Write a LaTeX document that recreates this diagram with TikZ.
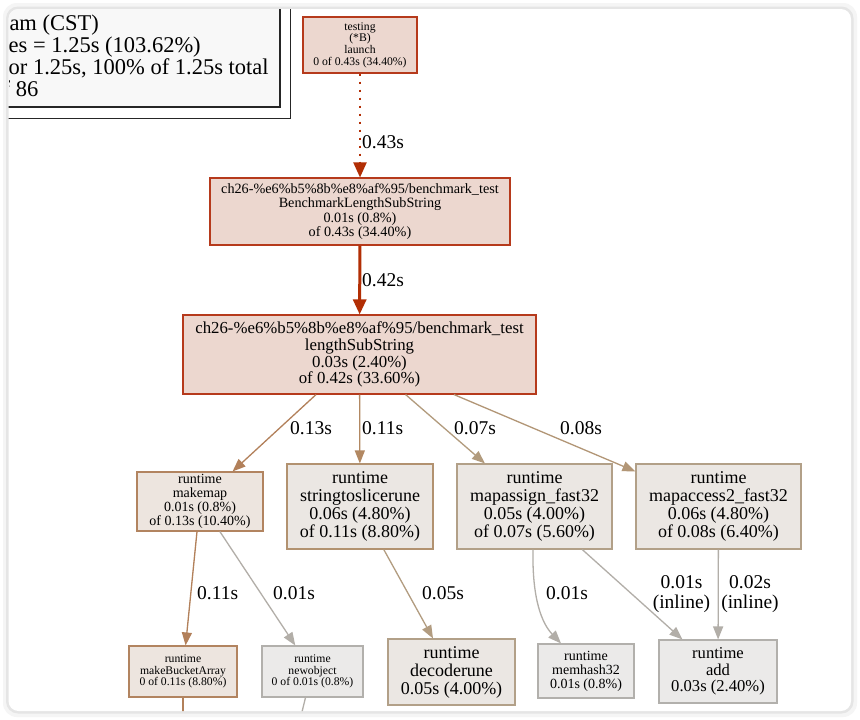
\documentclass[tikz,border=0pt]{standalone}
\usepackage{fontspec}
\setmainfont{Liberation Serif}
\usetikzlibrary{arrows.meta,calc}
\definecolor{redfill}{RGB}{236,215,207}
\definecolor{redline}{RGB}{182,58,28}
\definecolor{mmfill}{RGB}{237,229,223}
\definecolor{mmline}{RGB}{178,132,96}
\definecolor{tanfill}{RGB}{235,231,227}
\definecolor{stsline}{RGB}{178,146,112}
\definecolor{tanline}{RGB}{178,160,136}
\definecolor{grayfill}{RGB}{235,234,233}
\definecolor{grayline}{RGB}{178,176,172}
\definecolor{eRed}{RGB}{178,46,4}
\definecolor{eA}{RGB}{178,128,90}
\definecolor{eB}{RGB}{178,136,98}
\definecolor{eC}{RGB}{178,155,125}
\definecolor{eD}{RGB}{178,150,118}
\definecolor{eE}{RGB}{178,156,128}
\definecolor{eGray}{RGB}{178,174,168}
\definecolor{legfill}{RGB}{248,248,248}
\newcommand{\pfs}[1]{\fontsize{#1}{#1}\selectfont}
\begin{document}
\begin{tikzpicture}[x=1pt,y=-1pt,
  pnode/.style={draw, rectangle, inner sep=0pt, align=center, line width=1.1pt},
  elab/.style={inner sep=0pt, anchor=west, font=\pfs{19.5}},
  elab2/.style={inner sep=0pt, align=center, font=\pfs{19.5}},
  legtext/.style={inner sep=0pt, anchor=base west, font=\pfs{22.5}},
  edgeline/.style={line width=1.3pt, -{Triangle[length=13pt,width=10pt]}},
  plainline/.style={line width=1.3pt}
]
\useasboundingbox (0,0) rectangle (860,720);
\fill[white] (0,0) rectangle (860,720);
\fill[black!4, rounded corners=14pt] (3,3) rectangle (857,717);
\fill[black!10, rounded corners=12pt] (6,6.5) rectangle (853.5,713.5);
\fill[white, rounded corners=10pt] (8.5,9) rectangle (851,711);
\begin{scope}
\clip[rounded corners=10pt] (8.5,9) rectangle (851,711);
% legend
\draw[black!85, line width=1pt] (-20,-20) rectangle (290,118);
\draw[black!85, line width=1.5pt, fill=legfill] (-10,-10) rectangle (280,107);
\node[legtext] (l1) at (9.3,30.5) {am (CST)};
\node[legtext] (l2) at (8.5,52.5) {es = 1.25s (103.62\%)};
\node[legtext] (l3) at (8.5,74.5) {or 1.25s, 100\% of 1.25s total};
\node[legtext] (l4) at (2.5,96) {f 86};
% nodes
\node[pnode, fill=redfill, draw=redline, minimum width=114pt, minimum height=56pt, font=\pfs{11.7}] (tl) at (360,45)
  {testing\\(*B)\\launch\\0 of 0.43s (34.40\%)};
\node[pnode, fill=redfill, draw=redline, minimum width=300pt, minimum height=67pt, font=\pfs{14.2}] (bls) at (360,211.5)
  {ch26-\%e6\%b5\%8b\%e8\%af\%95/benchmark\_test\\BenchmarkLengthSubString\\0.01s (0.8\%)\\of 0.43s (34.40\%)};
\node[pnode, fill=redfill, draw=redline, minimum width=353pt, minimum height=79pt, font=\pfs{16.8}] (lss) at (359.5,354.5)
  {ch26-\%e6\%b5\%8b\%e8\%af\%95/benchmark\_test\\lengthSubString\\0.03s (2.40\%)\\of 0.42s (33.60\%)};
\node[pnode, fill=mmfill, draw=mmline, minimum width=126pt, minimum height=59pt, font=\pfs{14}] (mm) at (200,501.5)
  {runtime\\makemap\\0.01s (0.8\%)\\of 0.13s (10.40\%)};
\node[pnode, fill=tanfill, draw=stsline, minimum width=146pt, minimum height=85pt, font=\pfs{18}] (sts) at (360,506.5)
  {runtime\\stringtoslicerune\\0.06s (4.80\%)\\of 0.11s (8.80\%)};
\node[pnode, fill=tanfill, draw=tanline, minimum width=155pt, minimum height=85pt, font=\pfs{18}] (ma) at (534.5,506.5)
  {runtime\\mapassign\_fast32\\0.05s (4.00\%)\\of 0.07s (5.60\%)};
\node[pnode, fill=tanfill, draw=tanline, minimum width=165pt, minimum height=85pt, font=\pfs{18}] (mc) at (718.5,506.5)
  {runtime\\mapaccess2\_fast32\\0.06s (4.80\%)\\of 0.08s (6.40\%)};
\node[pnode, fill=mmfill, draw=mmline, minimum width=108pt, minimum height=51pt, font=\pfs{11.7}] (mba) at (183,671.5)
  {runtime\\makeBucketArray\\0 of 0.11s (8.80\%)};
\node[pnode, fill=grayfill, draw=grayline, minimum width=101pt, minimum height=51pt, font=\pfs{11.7}] (no) at (312.5,671.5)
  {runtime\\newobject\\0 of 0.01s (0.8\%)};
\node[pnode, fill=tanfill, draw=tanline, minimum width=127pt, minimum height=66pt, font=\pfs{18}] (dr) at (451.5,672)
  {runtime\\decoderune\\0.05s (4.00\%)};
\node[pnode, fill=grayfill, draw=grayline, minimum width=96pt, minimum height=54pt, font=\pfs{14}] (mh) at (586,671)
  {runtime\\memhash32\\0.01s (0.8\%)};
\node[pnode, fill=grayfill, draw=grayline, minimum width=118pt, minimum height=63pt, font=\pfs{16.6}] (add) at (718,671.5)
  {runtime\\add\\0.03s (2.40\%)};
% edges
\draw[color=eRed, line width=2pt, dash pattern=on 2.5pt off 5.5pt, -{Triangle[length=15pt,width=13pt]}] (tl) -- (bls);
\draw[color=eRed, line width=3pt, -{Triangle[length=15pt,width=13pt]}] (bls) -- (lss);
\draw[edgeline, color=eA] (lss) -- (mm);
\draw[edgeline, color=eB] (lss) -- (sts);
\draw[edgeline, color=eC] (lss) -- (ma);
\draw[edgeline, color=eD] (lss) -- (mc);
\draw[edgeline, color=eA] (mm) -- (mba);
\draw[edgeline, color=eGray] (mm) -- (no);
\draw[edgeline, color=eE] (sts) -- (dr);
\coordinate (mhA) at ($(ma.south)+(-1.5,0)$);
\coordinate (mhB) at ($(mh.north)+(-25,0)$);
\draw[edgeline, color=eGray] (mhA) .. controls ($(mhA)+(-1,50)$) and ($(mhB)+(-19,-20)$) .. (mhB);
\draw[edgeline, color=eGray] (ma) -- (add);
\draw[edgeline, color=eGray] (mc) -- (add);
\coordinate (mbaOut) at (183,716);
\coordinate (noOut) at (301,716);
\draw[plainline, color=eA] (mba.south) -- (mbaOut);
\draw[plainline, color=eGray] ($(no.south)+(-7,0)$) -- (noOut);
% edge labels
\node[elab] (lb1) at (362,142) {0.43s};
\node[elab] (lb2) at (362,280) {0.42s};
\node[elab] (lb3) at (290,428) {0.13s};
\node[elab] (lb4) at (362,428) {0.11s};
\node[elab] (lb5) at (454,428) {0.07s};
\node[elab] (lb6) at (560,428) {0.08s};
\node[elab] (lb7) at (197,593) {0.11s};
\node[elab] (lb8) at (273,593) {0.01s};
\node[elab] (lb9) at (422,593) {0.05s};
\node[elab] (lb10) at (546,593) {0.01s};
\node[elab2] (lb11) at (681.5,594) {0.01s\\(inline)};
\node[elab2] (lb12) at (750,594) {0.02s\\(inline)};
\end{scope}
\end{tikzpicture}
\end{document}
